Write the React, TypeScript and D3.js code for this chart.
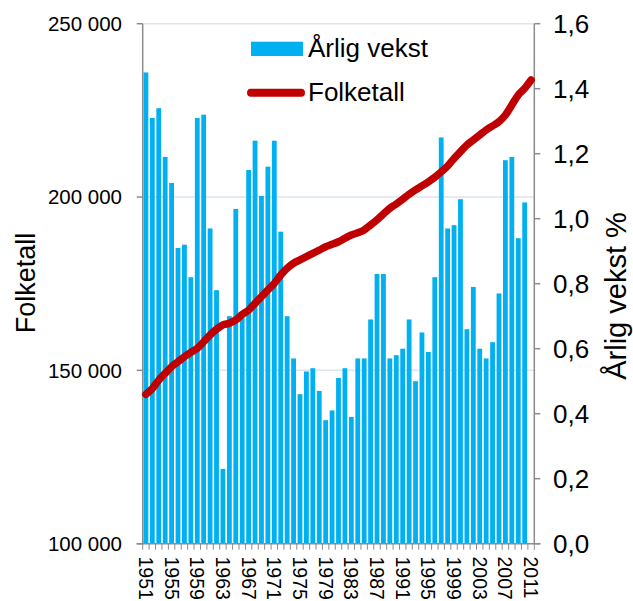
import React from "react";
import * as d3 from "d3";

const years: number[] = d3.range(1951, 2012);
const labelYears: number[] = [1951, 1955, 1959, 1963, 1967, 1971, 1975, 1979, 1983, 1987, 1991, 1995, 1999, 2003, 2007, 2011];

// Årlig vekst % (right axis), 1951–2011 (2011 not shown)
const growth: (number | null)[] = [
  1.45, 1.31, 1.34, 1.19, 1.11, 0.91, 0.92, 0.82, 1.31, 1.32,
  0.97, 0.78, 0.23, 0.70, 1.03, 0.70, 1.15, 1.24, 1.07, 1.16,
  1.24, 0.96, 0.70, 0.57, 0.46, 0.53, 0.54, 0.47, 0.38, 0.41,
  0.51, 0.54, 0.39, 0.57, 0.57, 0.69, 0.83, 0.83, 0.57, 0.58,
  0.60, 0.69, 0.50, 0.65, 0.59, 0.82, 1.25, 0.97, 0.98, 1.06,
  0.66, 0.79, 0.60, 0.57, 0.62, 0.77, 1.18, 1.19, 0.94, 1.05,
  null,
];

// Folketall (left axis), 1951–2011
const population: number[] = [
  143100, 144800, 147200, 149150, 151050, 152500, 153950, 155200, 156350, 158250,
  160200, 161850, 163100, 163600, 164550, 166150, 167400, 169350, 171250, 173200,
  175100, 177500, 179450, 180900, 181850, 182800, 183750, 184700, 185650, 186350,
  187100, 188100, 189050, 189700, 190500, 191950, 193400, 195100, 196750, 198000,
  199350, 200800, 202050, 203200, 204400, 205700, 207300, 208950, 211150, 213100,
  215000, 216450, 217900, 219350, 220500, 221750, 223650, 226550, 229450, 231350,
  233750,
];

const leftTicks: number[] = [100000, 150000, 200000, 250000];
const rightTicks: number[] = [0, 0.2, 0.4, 0.6, 0.8, 1.0, 1.2, 1.4, 1.6];

const W = 633;
const H = 601;
const X0 = 142.7;
const X1 = 534.3;
const YT = 23.7;
const YB = 543.7;

const BLUE = "#00B0F0";
const RED = "#C00000";
const AXIS = "#8C8C8C";
const GRID = "#DCE5F1";
const FONT = "'Liberation Sans', Arial, Helvetica, sans-serif";

const loc = d3.formatLocale({ decimal: ",", thousands: " ", grouping: [3], currency: ["", " kr"] });
const fmtLeft = loc.format(",d");
const fmtRight = loc.format(".1f");

export default function App() {
  const x = d3.scaleBand<number>().domain(years).range([X0, X1]).paddingInner(0.25).paddingOuter(0.125);
  const step = x.step();
  const bw = x.bandwidth();
  const yL = d3.scaleLinear().domain([100000, 250000]).range([YB, YT]);
  const yR = d3.scaleLinear().domain([0, 1.6]).range([YB, YT]);

  const line = d3
    .line<number>()
    .x((_, i) => (x(years[i]) as number) + bw / 2)
    .y((d) => yL(d))
    .curve(d3.curveMonotoneX);

  const boundaries = d3.range(years.length + 1).map((i) => X0 + i * step);

  return (
    <svg
      width={W}
      height={H}
      style={{ position: "absolute", left: 0, top: 0, background: "#fff" }}
      fontFamily={FONT}
    >
      {/* gridlines */}
      {leftTicks.slice(1).map((t) => (
        <line key={"g" + t} x1={X0} x2={X1} y1={yL(t)} y2={yL(t)} stroke={GRID} strokeWidth={1.5} />
      ))}

      {/* bars */}
      {growth.map((v, i) =>
        v == null ? null : (
          <rect
            key={"b" + i}
            x={x(years[i])}
            y={yR(v)}
            width={bw}
            height={YB - yR(v)}
            fill={BLUE}
          />
        )
      )}

      {/* axes */}
      <line x1={X0} x2={X0} y1={YT} y2={YB} stroke={AXIS} strokeWidth={1.5} />
      <line x1={X1} x2={X1} y1={YT} y2={YB} stroke={AXIS} strokeWidth={1.5} />
      <line x1={X0 - 6} x2={X1 + 6} y1={YB} y2={YB} stroke={AXIS} strokeWidth={1.5} />
      {boundaries.map((b, i) => (
        <line key={"bt" + i} x1={b} x2={b} y1={YB} y2={YB + 6} stroke={AXIS} strokeWidth={1} />
      ))}
      {leftTicks.map((t) => (
        <g key={"lt" + t}>
          <line x1={X0 - 6} x2={X0} y1={yL(t)} y2={yL(t)} stroke={AXIS} strokeWidth={1.5} />
          <text x={122} y={yL(t)} dy="0.36em" textAnchor="end" fontSize={20.5} fill="#000">
            {fmtLeft(t)}
          </text>
        </g>
      ))}
      {rightTicks.map((t) => (
        <g key={"rt" + t}>
          <line x1={X1} x2={X1 + 6} y1={yR(t)} y2={yR(t)} stroke={AXIS} strokeWidth={1.5} />
          <text x={553} y={yR(t)} dy="0.36em" textAnchor="start" fontSize={26} fill="#000">
            {fmtRight(t)}
          </text>
        </g>
      ))}

      {/* category labels */}
      {labelYears.map((yr) => (
        <text
          key={"yl" + yr}
          transform={`translate(${(x(yr) as number) + bw / 2},556.5) rotate(90)`}
          dy="0.36em"
          textAnchor="start"
          fontSize={19.5}
          fill="#000"
        >
          {yr}
        </text>
      ))}

      {/* population line */}
      <path
        d={line(population) || ""}
        fill="none"
        stroke={RED}
        strokeWidth={7.5}
        strokeLinecap="round"
        strokeLinejoin="round"
      />

      {/* axis titles */}
      <text transform="translate(35,283) rotate(-90)" textAnchor="middle" fontSize={27} fill="#000">
        Folketall
      </text>
      <text transform="translate(626,296) rotate(-90)" textAnchor="middle" fontSize={29} fill="#000">
        Årlig vekst %
      </text>

      {/* legend */}
      <rect x={251} y={41.7} width={52} height={14.3} fill={BLUE} />
      <text x={308} y={57} fontSize={26} fill="#000">
        Årlig vekst
      </text>
      <line x1={251} x2={301} y1={92.7} y2={92.7} stroke={RED} strokeWidth={8} strokeLinecap="round" />
      <text x={308} y={101} fontSize={26} fill="#000">
        Folketall
      </text>
    </svg>
  );
}
